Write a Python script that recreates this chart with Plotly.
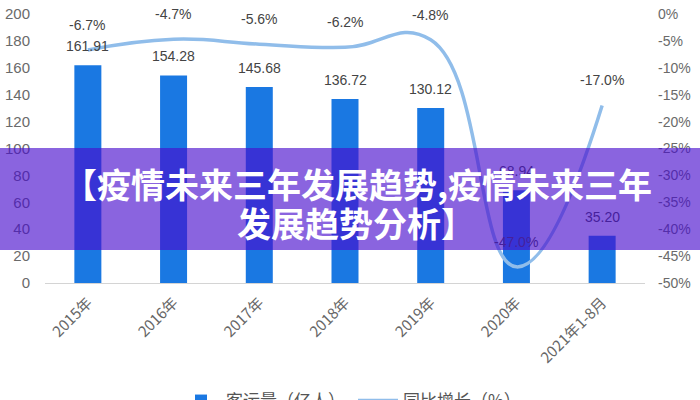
import plotly.graph_objects as go

categories = ["2015年", "2016年", "2017年", "2018年", "2019年", "2020年", "2021年1-8月"]
passenger_volume = [161.91, 154.28, 145.68, 136.72, 130.12, 68.94, 35.20]
yoy_growth = [-6.7, -4.7, -5.6, -6.2, -4.8, -47.0, -17.0]

left_tick_vals = [0, 20, 40, 60, 80, 100, 120, 140, 160, 180, 200]
right_tick_vals = [0, -5, -10, -15, -20, -25, -30, -35, -40, -45, -50]
right_tick_text = ["0%", "-5%", "-10%", "-15%", "-20%", "-25%", "-30%", "-35%", "-40%", "-45%", "-50%"]

bar_name = "客运量（亿人）"
line_name = "同比增长（%）"
banner_line1 = "【疫情未来三年发展趋势,疫情未来三年"
banner_line2 = "发展趋势分析】"

BAR_COLOR = "#1a78e2"
LINE_COLOR = "#90bdea"
TEXT_FONT = "Liberation Sans, Arial, sans-serif"
CJK_FONT = "Noto Sans CJK SC, sans-serif"

VP_LEFT, VP_RIGHT, VP_TOP, VP_BOTTOM = 45, 645, 14, 283   # plot area in pixels
L = VP_LEFT
R = 700 - VP_RIGHT
T = VP_TOP
B = 400 - VP_BOTTOM
PW, PH = 700 - L - R, 400 - T - B

def px_x(px):
    return (px - L) / PW

def px_y(py):
    return (400 - B - py) / PH

fig = go.Figure()
fig.add_trace(go.Bar(
    x=categories, y=passenger_volume, name=bar_name,
    marker=dict(color=BAR_COLOR, line=dict(width=0)),
    yaxis="y",
))
fig.add_trace(go.Scatter(
    x=categories, y=yoy_growth, name=line_name, mode="lines",
    line=dict(color=LINE_COLOR, width=3.5, shape="spline", smoothing=1.3),
    yaxis="y2",
))

annotations = []
for c, v in zip(categories, passenger_volume):
    annotations.append(dict(
        x=c, y=v, xref="x", yref="y", text=f"{v:.2f}", showarrow=False,
        yshift=19, font=dict(family=TEXT_FONT, size=14, color="#444444"),
    ))
for c, v in zip(categories, yoy_growth):
    annotations.append(dict(
        x=c, y=v, xref="x", yref="y2", text=f"{v:.1f}%", showarrow=False,
        yshift=25, font=dict(family=TEXT_FONT, size=14, color="#444444"),
    ))

# banner background (drawn after labels so it covers them)
annotations.append(dict(
    xref="paper", yref="paper", x=px_x(350), y=px_y(199),
    xanchor="center", yanchor="middle", text=" ", showarrow=False,
    width=704, height=102, borderpad=0, borderwidth=0,
    bgcolor="rgba(72,12,205,0.64)",
))
annotations.append(dict(
    xref="paper", yref="paper", x=px_x(357), y=px_y(183),
    xanchor="center", yanchor="middle", text=f"<b>{banner_line1}</b>", showarrow=False,
    font=dict(family=CJK_FONT, size=34, color="white"),
))
annotations.append(dict(
    xref="paper", yref="paper", x=px_x(356), y=px_y(222),
    xanchor="center", yanchor="middle", text=f"<b>{banner_line2}</b>", showarrow=False,
    font=dict(family=CJK_FONT, size=34, color="white"),
))

fig.update_layout(
    width=700, height=400,
    margin=dict(l=L, r=R, t=T, b=B, pad=0, autoexpand=False),
    paper_bgcolor="white", plot_bgcolor="white",
    bargap=0.685,
    showlegend=True,
    legend=dict(
        orientation="h", x=px_x(176), y=px_y(383), xanchor="left", yanchor="top",
        font=dict(family=CJK_FONT, size=17, color="#555555"),
        itemwidth=40, entrywidth=122, entrywidthmode="pixels",
        traceorder="normal", bgcolor="rgba(0,0,0,0)",
    ),
    xaxis=dict(
        type="category", tickangle=-45, showgrid=False, automargin=False,
        showline=True, linecolor="#d4d4d4", linewidth=1,
        ticks="", tickfont=dict(family=CJK_FONT, size=15, color="#666666"),
        ticklabelstandoff=4,
    ),
    yaxis=dict(
        range=[0, 200], tickvals=left_tick_vals, showgrid=False, zeroline=False,
        showline=False, ticks="", automargin=False,
        tickfont=dict(family=TEXT_FONT, size=15, color="#6a6a6a"),
        ticklabelstandoff=14,
    ),
    yaxis2=dict(
        range=[-50, 0], overlaying="y", side="right", automargin=False,
        tickvals=right_tick_vals, ticktext=right_tick_text,
        showgrid=False, zeroline=False, showline=False, ticks="",
        tickfont=dict(family=TEXT_FONT, size=14, color="#6a6a6a"),
        ticklabelstandoff=12,
    ),
    annotations=annotations,
)

fig.write_html("out.html", config={"displayModeBar": False},
               post_script="document.body.style.margin='0';")
